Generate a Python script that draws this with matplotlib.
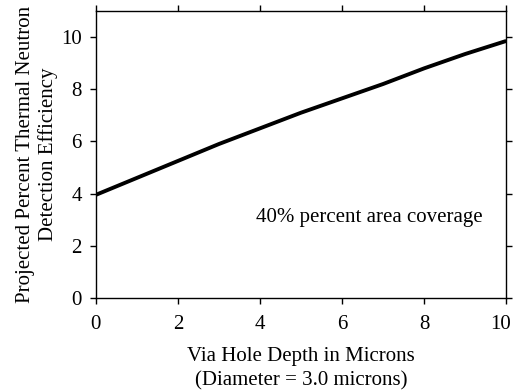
import numpy as np
import matplotlib
matplotlib.use('Agg')
import matplotlib.pyplot as plt
import matplotlib.transforms as mtransforms

# Data
depth = [0, 1, 2, 3, 4, 5, 6, 7, 8, 9, 10]
efficiency = [3.95, 4.6, 5.25, 5.9, 6.5, 7.1, 7.65, 8.2, 8.8, 9.35, 9.85]
xticks = [0, 2, 4, 6, 8, 10]
yticks = [0, 2, 4, 6, 8, 10]

plt.rcParams['font.family'] = ['Liberation Serif', 'DejaVu Serif']
plt.rcParams['font.size'] = 15

fig = plt.figure(figsize=(5.15, 3.91), dpi=100)
ax = fig.add_axes([0.186, 0.238, 0.797, 0.734])

ax.plot(depth, efficiency, color='black', lw=2.8, solid_capstyle='butt')
ax.set_xlim(0, 10)
ax.set_ylim(0, 11)
ax.set_xticks(xticks)
ax.set_yticks(yticks)

for s in ax.spines.values():
    s.set_linewidth(1.0)

ax.tick_params(direction='out', length=4, width=1, top=True, right=True,
               labeltop=False, labelright=False)
ax.tick_params(axis='x', pad=8)
ax.tick_params(axis='y', pad=6)

# last x tick label sits right at the figure edge; pull it in a little
last = ax.get_xticklabels()[-1]
last.set_transform(last.get_transform() + mtransforms.ScaledTranslation(-4 / 72, 0, fig.dpi_scale_trans))

ax.text(3.9, 3.1, '40% percent area coverage', fontsize=15, va='center', ha='left')

ax.set_xlabel('Via Hole Depth in Microns\n(Diameter = 3.0 microns)', labelpad=10, linespacing=1.3)
ax.set_ylabel('Projected Percent Thermal Neutron\nDetection Efficiency', labelpad=2, linespacing=1.2)

fig.savefig('out.png', dpi=100)
